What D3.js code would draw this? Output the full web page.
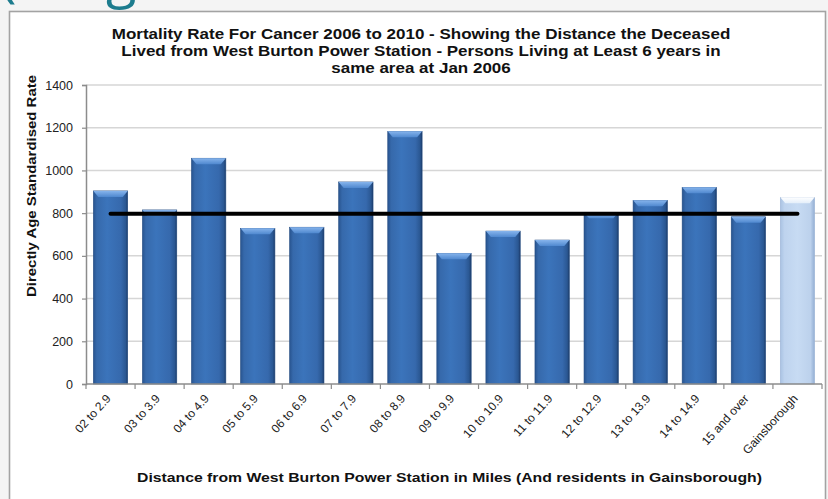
<!DOCTYPE html>
<html>
<head>
<meta charset="utf-8">
<script src="https://cdn.jsdelivr.net/npm/d3@7"></script>
<style>
  body { margin: 0; background: #f4f4f4; }
  svg { display: block; }
</style>
</head>
<body>
<svg id="chart" width="828" height="499"></svg>
<script>
// Distance bands from the power station, plus the Gainsborough comparison group
const categories = ["02 to 2.9", "03 to 3.9", "04 to 4.9", "05 to 5.9", "06 to 6.9",
  "07 to 7.9", "08 to 8.9", "09 to 9.9", "10 to 10.9", "11 to 11.9", "12 to 12.9",
  "13 to 13.9", "14 to 14.9", "15 and over", "Gainsborough"];

// Directly age standardised mortality rate for each band
const rates = [904, 815, 1057, 729, 734, 946, 1183, 612, 716, 674, 804, 860, 921, 783, 874];

// Reference (average) rate drawn as a line across all bands
const averageRates = [797, 797, 797, 797, 797, 797, 797, 797, 797, 797, 797, 797, 797, 797, 797];

const yTicks = [0, 200, 400, 600, 800, 1000, 1200, 1400];

const titleLines = [
  "Mortality Rate For Cancer 2006 to 2010 - Showing the Distance the Deceased",
  "Lived from West Burton Power Station - Persons Living at Least 6 years in",
  "same area at Jan 2006"
];

const svg = d3.select("#chart");
const FONT = "'Liberation Sans', Arial, sans-serif";
const plot = { left: 86, right: 822, top: 85, bottom: 384 };

const x = d3.scaleBand().domain(categories)
  .range([plot.left, plot.right]).paddingInner(0.3).paddingOuter(0.15);
const y = d3.scaleLinear().domain([0, 1400]).range([plot.bottom, plot.top]);

const defs = svg.append("defs");
function grad(id, vertical, stops) {
  const g = defs.append("linearGradient").attr("id", id)
    .attr("x1", "0%").attr("y1", "0%")
    .attr("x2", vertical ? "0%" : "100%").attr("y2", vertical ? "100%" : "0%");
  stops.forEach(([o, c]) => g.append("stop").attr("offset", o).attr("stop-color", c));
}
grad("barBlue", false, [["0%", "#28548f"], ["10%", "#3669ab"], ["40%", "#3b74bb"], ["80%", "#3669ad"], ["94%", "#2a5792"], ["100%", "#1c3b68"]]);
grad("barLight", false, [["0%", "#a9c2e2"], ["12%", "#bed3ee"], ["50%", "#c7dbf3"], ["88%", "#bcd1ec"], ["100%", "#93aed3"]]);
grad("bevelBlue", true, [["0%", "#86b4ec"], ["100%", "#4f88cf"]]);
grad("bevelLight", true, [["0%", "#ffffff"], ["100%", "#e3eefa"]]);

// Slide heading fragments showing above the chart frame
const heading = svg.append("g").attr("fill", "#1d7c8e")
  .attr("font-family", "'Open Sans', 'Liberation Sans', sans-serif").attr("font-size", 56);
heading.append("text").attr("x", 0).attr("y", -4).text("(");
heading.append("text").attr("x", 106).attr("y", -4).text("g");
heading.append("text").attr("x", 534).attr("y", -9).text(")");

// Chart frame
svg.append("rect").attr("x", 9.5).attr("y", 11.5).attr("width", 816).attr("height", 500)
  .attr("fill", "#ffffff").attr("stroke", "#a3a3a3").attr("stroke-width", 1.6);

// Title, set slightly wide
svg.append("g").attr("transform", "translate(421,0) scale(1.215,1)")
  .selectAll("text").data(titleLines).join("text")
  .attr("x", 0).attr("y", (d, i) => 39 + i * 17)
  .attr("text-anchor", "middle")
  .attr("font-family", FONT)
  .attr("font-weight", "bold").attr("font-size", 14).attr("fill", "#111")
  .text(d => d);

// Gridlines
svg.append("g").selectAll("line").data(yTicks.filter(t => t > 0)).join("line")
  .attr("x1", plot.left).attr("x2", plot.right)
  .attr("y1", d => y(d)).attr("y2", d => y(d))
  .attr("stroke", "#d6d6d6").attr("stroke-width", 1.5);

// Y axis
const yAxis = svg.append("g").attr("transform", `translate(${plot.left},0)`)
  .call(d3.axisLeft(y).tickValues(yTicks).tickFormat(d3.format("d")).tickSize(4).tickPadding(9));
yAxis.select(".domain").attr("stroke", "#8c8c8c").attr("stroke-width", 1.5);
yAxis.selectAll(".tick line").attr("stroke", "#8c8c8c").attr("stroke-width", 1.2);
yAxis.selectAll(".tick text").attr("font-family", FONT)
  .attr("font-size", 12.5).attr("fill", "#222");

// Bars with a bevelled top
const bars = svg.append("g").selectAll("g").data(categories).join("g");
bars.append("rect")
  .attr("x", d => x(d)).attr("width", x.bandwidth())
  .attr("y", (d, i) => y(rates[i])).attr("height", (d, i) => y(0) - y(rates[i]))
  .attr("fill", d => d === "Gainsborough" ? "url(#barLight)" : "url(#barBlue)")
  .attr("stroke", d => d === "Gainsborough" ? "#9db5d6" : "#224a80").attr("stroke-width", 0.6);
bars.append("path")
  .attr("d", (d, i) => {
    const x0 = x(d), x1 = x(d) + x.bandwidth(), t = y(rates[i]), b = 5, h = 6;
    return `M${x0},${t}L${x1},${t}L${x1 - b},${t + h}L${x0 + b},${t + h}Z`;
  })
  .attr("fill", d => d === "Gainsborough" ? "url(#bevelLight)" : "url(#bevelBlue)");

// X axis with ticks between bands
svg.append("line").attr("x1", plot.left).attr("x2", plot.right)
  .attr("y1", plot.bottom).attr("y2", plot.bottom)
  .attr("stroke", "#8c8c8c").attr("stroke-width", 1.5);
const boundaries = categories.map(c => x(c) - x.step() * x.paddingInner() / 2)
  .concat([plot.right]);
svg.append("g").selectAll("line").data(boundaries).join("line")
  .attr("x1", d => d).attr("x2", d => d)
  .attr("y1", plot.bottom).attr("y2", plot.bottom + 5)
  .attr("stroke", "#8c8c8c").attr("stroke-width", 1.2);
svg.append("g").selectAll("text").data(categories).join("text")
  .attr("transform", d => `translate(${x(d) + x.bandwidth() / 2 + 1},${plot.bottom + 15}) rotate(-48)`)
  .attr("text-anchor", "end")
  .attr("font-family", FONT)
  .attr("font-size", 12).attr("fill", "#222")
  .text(d => d);

// Average rate line
const line = d3.line().x(d => x(d.c) + x.bandwidth() / 2).y(d => y(d.v));
svg.append("path")
  .datum(categories.map((c, i) => ({ c, v: averageRates[i] })))
  .attr("d", line).attr("fill", "none")
  .attr("stroke", "#000").attr("stroke-width", 4).attr("stroke-linecap", "round");

// Axis titles
svg.append("text")
  .attr("transform", "translate(35.5,186) rotate(-90)")
  .attr("text-anchor", "middle")
  .attr("font-family", FONT)
  .attr("font-weight", "bold").attr("font-size", 12).attr("fill", "#111")
  .attr("textLength", 222).attr("lengthAdjust", "spacingAndGlyphs")
  .text("Directly Age Standardised Rate");
svg.append("text")
  .attr("x", 449.5).attr("y", 482)
  .attr("text-anchor", "middle")
  .attr("font-family", FONT)
  .attr("font-weight", "bold").attr("font-size", 12).attr("fill", "#111")
  .attr("textLength", 625).attr("lengthAdjust", "spacingAndGlyphs")
  .text("Distance from West Burton Power Station in Miles (And residents in Gainsborough)");
</script>
</body>
</html>
